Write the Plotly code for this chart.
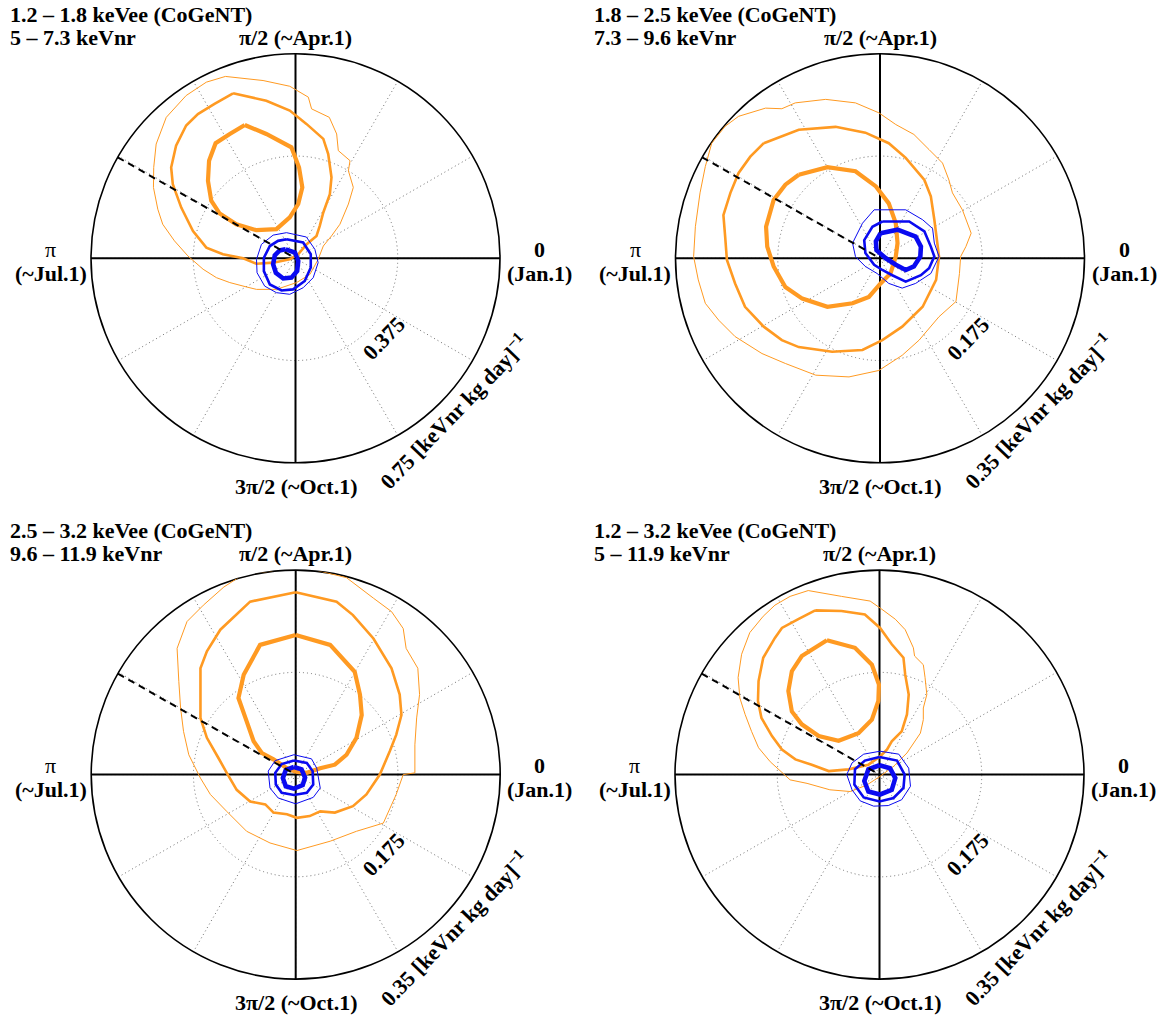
import numpy as np
import plotly.graph_objects as go

W, H = 1169, 1020
ORANGE = "#FF9A22"
BLUE = "#0A0AF0"
FONT = "Liberation Serif"
GRID = "#707070"

# Expected annual-modulation peak phase (~Jun.2), in degrees
PEAK_PHASE_DEG = 150.4

# Modulation amplitude contours, given as (A cos phi, A sin phi) pairs
# in [keVnr kg day]^-1.  outer / middle / inner confidence regions.

# ---- 1.2 - 1.8 keVee ----
p1_cogent_outer = [(-0.257, 0.667), (-0.119, 0.652), (-0.021, 0.631), (0.047, 0.591), (0.059, 0.548),
                   (0.124, 0.517), (0.151, 0.456), (0.157, 0.395), (0.200, 0.358), (0.194, 0.321),
                   (0.212, 0.260), (0.194, 0.199), (0.163, 0.125), (0.132, 0.082), (0.102, 0.045),
                   (0.083, -0.004), (0.053, -0.059), (0.004, -0.089), (-0.070, -0.114), (-0.143, -0.114),
                   (-0.180, -0.105), (-0.241, -0.089), (-0.290, -0.071), (-0.339, -0.040), (-0.395, 0.009),
                   (-0.444, 0.064), (-0.487, 0.125), (-0.505, 0.180), (-0.521, 0.260), (-0.520, 0.333),
                   (-0.511, 0.419), (-0.474, 0.517), (-0.401, 0.597), (-0.327, 0.646)]
p1_cogent_middle = [(-0.229, 0.605), (-0.107, 0.578), (-0.021, 0.542), (0.040, 0.493), (0.102, 0.438),
                    (0.120, 0.382), (0.132, 0.297), (0.126, 0.235), (0.102, 0.168), (0.089, 0.119),
                    (0.077, 0.082), (0.040, 0.051), (0.010, 0.015), (-0.021, -0.004), (-0.082, -0.016),
                    (-0.143, -0.020), (-0.192, 0.000), (-0.266, 0.015), (-0.327, 0.039), (-0.376, 0.100),
                    (-0.419, 0.186), (-0.450, 0.272), (-0.456, 0.333), (-0.438, 0.413), (-0.401, 0.487),
                    (-0.358, 0.529), (-0.297, 0.566)]
p1_cogent_inner = [(-0.186, 0.489), (-0.107, 0.456), (-0.015, 0.407), (0.013, 0.333), (0.025, 0.260),
                   (0.010, 0.199), (-0.021, 0.150), (-0.070, 0.107), (-0.143, 0.103), (-0.217, 0.125),
                   (-0.278, 0.164), (-0.309, 0.211), (-0.321, 0.284), (-0.317, 0.358), (-0.293, 0.422),
                   (-0.241, 0.456)]
p1_other_outer = [(-0.033, 0.094), (0.040, 0.078), (0.071, 0.033), (0.083, -0.016), (0.065, -0.071),
                  (0.028, -0.108), (-0.021, -0.132), (-0.070, -0.126), (-0.113, -0.102), (-0.141, -0.053),
                  (-0.143, -0.004), (-0.125, 0.051), (-0.082, 0.085)]
p1_other_middle = [(-0.033, 0.070), (0.028, 0.058), (0.056, 0.015), (0.056, -0.034), (0.034, -0.083),
                   (-0.009, -0.114), (-0.051, -0.118), (-0.094, -0.096), (-0.116, -0.047), (-0.116, 0.002),
                   (-0.094, 0.045), (-0.064, 0.064)]
p1_other_inner = [(-0.036, 0.033), (-0.002, 0.021), (0.010, -0.010), (0.006, -0.047), (-0.015, -0.071),
                  (-0.045, -0.074), (-0.072, -0.053), (-0.082, -0.022), (-0.076, 0.011), (-0.058, 0.029)]

# ---- 1.8 - 2.5 keVee ----
p2_cogent_outer = [(-0.242, 0.243), (-0.196, 0.257), (-0.168, 0.256), (-0.145, 0.266), (-0.093, 0.272),
                   (-0.042, 0.266), (-0.002, 0.249), (0.027, 0.229), (0.058, 0.212), (0.084, 0.186),
                   (0.107, 0.163), (0.118, 0.134), (0.124, 0.112), (0.141, 0.083), (0.156, 0.043),
                   (0.147, 0.020), (0.138, 0.003), (0.136, -0.026), (0.130, -0.074), (0.101, -0.100),
                   (0.067, -0.140), (0.038, -0.166), (-0.002, -0.192), (-0.053, -0.203), (-0.110, -0.200),
                   (-0.162, -0.180), (-0.202, -0.163), (-0.248, -0.134), (-0.276, -0.106), (-0.299, -0.077),
                   (-0.311, -0.037), (-0.319, 0.003), (-0.316, 0.054), (-0.308, 0.112), (-0.299, 0.157),
                   (-0.288, 0.197), (-0.265, 0.226)]
p2_cogent_middle = [(-0.199, 0.197), (-0.139, 0.220), (-0.076, 0.225), (-0.025, 0.215), (0.015, 0.197),
                    (0.044, 0.172), (0.076, 0.134), (0.087, 0.106), (0.093, 0.066), (0.101, 0.003),
                    (0.096, -0.037), (0.073, -0.083), (0.038, -0.117), (0.004, -0.140), (-0.030, -0.157),
                    (-0.082, -0.160), (-0.139, -0.152), (-0.168, -0.140), (-0.199, -0.117), (-0.231, -0.083),
                    (-0.248, -0.043), (-0.262, -0.003), (-0.265, 0.037), (-0.268, 0.074), (-0.256, 0.112),
                    (-0.242, 0.146), (-0.222, 0.174)]
p2_cogent_inner = [(-0.139, 0.143), (-0.090, 0.156), (-0.042, 0.149), (-0.007, 0.123), (0.015, 0.094),
                   (0.027, 0.060), (0.030, 0.026), (0.027, 0.003), (0.018, -0.026), (0.001, -0.043),
                   (-0.019, -0.066), (-0.047, -0.077), (-0.090, -0.083), (-0.133, -0.069), (-0.162, -0.049),
                   (-0.182, -0.014), (-0.193, 0.020), (-0.195, 0.054), (-0.182, 0.100), (-0.162, 0.126)]
p2_other_outer = [(-0.010, 0.083), (0.044, 0.083), (0.073, 0.066), (0.090, 0.051), (0.093, 0.026),
                  (0.101, 0.003), (0.087, -0.026), (0.061, -0.043), (0.038, -0.051), (0.015, -0.043),
                  (-0.005, -0.026), (-0.025, -0.014), (-0.042, 0.003), (-0.047, 0.026), (-0.030, 0.060)]
p2_other_middle = [(0.004, 0.063), (0.050, 0.063), (0.076, 0.046), (0.087, 0.020), (0.093, 0.003),
                   (0.084, -0.017), (0.070, -0.029), (0.044, -0.040), (0.021, -0.029), (0.004, -0.020),
                   (-0.010, -0.011), (-0.025, 0.009), (-0.027, 0.031), (-0.013, 0.054)]
p2_other_inner = [(0.001, 0.043), (0.030, 0.049), (0.061, 0.037), (0.070, 0.020), (0.069, 0.003),
                  (0.058, -0.014), (0.044, -0.020), (0.027, -0.011), (0.010, 0.000), (-0.006, 0.014),
                  (-0.007, 0.029)]

# ---- 2.5 - 3.2 keVee ----
p3_cogent_outer = [(-0.089, 0.343), (-0.044, 0.348), (-0.010, 0.356), (0.019, 0.354), (0.087, 0.337),
                   (0.133, 0.302), (0.164, 0.279), (0.184, 0.250), (0.189, 0.216), (0.209, 0.182),
                   (0.212, 0.137), (0.207, 0.097), (0.204, 0.051), (0.204, 0.003), (0.184, 0.000),
                   (0.172, -0.034), (0.150, -0.083), (0.104, -0.097), (0.059, -0.114), (0.002, -0.130),
                   (-0.044, -0.117), (-0.084, -0.097), (-0.118, -0.063), (-0.146, -0.034), (-0.163, -0.006),
                   (-0.183, 0.034), (-0.192, 0.074), (-0.197, 0.114), (-0.200, 0.159), (-0.203, 0.216),
                   (-0.186, 0.262), (-0.158, 0.290), (-0.123, 0.321)]
p3_cogent_middle = [(0.000, 0.312), (0.070, 0.296), (0.098, 0.273), (0.133, 0.233), (0.164, 0.182),
                    (0.178, 0.137), (0.181, 0.102), (0.172, 0.068), (0.161, 0.040), (0.144, 0.000),
                    (0.121, -0.034), (0.098, -0.054), (0.067, -0.065), (0.042, -0.063), (0.024, -0.071),
                    (0.002, -0.074), (-0.015, -0.068), (-0.038, -0.065), (-0.052, -0.051), (-0.078, -0.046),
                    (-0.101, -0.026), (-0.118, 0.003), (-0.132, 0.028), (-0.152, 0.063), (-0.163, 0.097),
                    (-0.163, 0.137), (-0.163, 0.182), (-0.152, 0.211), (-0.129, 0.248), (-0.078, 0.296)]
p3_cogent_inner = [(0.000, 0.239), (0.059, 0.222), (0.101, 0.176), (0.110, 0.137), (0.113, 0.102),
                   (0.104, 0.063), (0.087, 0.034), (0.067, 0.017), (0.042, 0.011), (0.019, 0.003),
                   (0.000, 0.005), (-0.015, 0.011), (-0.038, 0.026), (-0.058, 0.037), (-0.072, 0.057),
                   (-0.086, 0.097), (-0.098, 0.131), (-0.089, 0.171), (-0.061, 0.222)]
p3_other_outer = [(-0.003, 0.034), (0.027, 0.027), (0.036, 0.011), (0.042, -0.023), (0.030, -0.039),
                  (0.000, -0.050), (-0.030, -0.040), (-0.044, -0.023), (-0.047, 0.006), (-0.035, 0.024)]
p3_other_middle = [(-0.003, 0.024), (0.019, 0.020), (0.029, 0.006), (0.030, -0.017), (0.019, -0.031),
                   (-0.003, -0.035), (-0.024, -0.031), (-0.034, -0.017), (-0.035, 0.003), (-0.024, 0.018)]
p3_other_inner = [(-0.003, 0.013), (0.010, 0.009), (0.016, -0.005), (0.012, -0.018), (-0.003, -0.024),
                  (-0.017, -0.020), (-0.022, -0.006), (-0.017, 0.008)]

# ---- 1.2 - 3.2 keVee ----
p4_cogent_outer = [(-0.122, 0.315), (-0.065, 0.305), (-0.016, 0.297), (0.004, 0.283), (0.027, 0.266),
                   (0.044, 0.248), (0.058, 0.217), (0.060, 0.203), (0.075, 0.188), (0.078, 0.166),
                   (0.081, 0.137), (0.075, 0.114), (0.075, 0.094), (0.070, 0.071), (0.047, 0.037),
                   (0.024, 0.014), (0.001, -0.003), (-0.022, -0.018), (-0.050, -0.029), (-0.085, -0.026),
                   (-0.124, -0.015), (-0.153, -0.009), (-0.187, 0.022), (-0.207, 0.046), (-0.219, 0.074),
                   (-0.230, 0.103), (-0.239, 0.131), (-0.242, 0.166), (-0.236, 0.206), (-0.222, 0.243),
                   (-0.199, 0.271), (-0.179, 0.290), (-0.153, 0.305)]
p4_cogent_middle = [(-0.110, 0.281), (-0.065, 0.280), (-0.025, 0.274), (0.001, 0.251), (0.021, 0.223),
                    (0.041, 0.200), (0.044, 0.171), (0.050, 0.137), (0.047, 0.103), (0.038, 0.074),
                    (0.021, 0.057), (0.013, 0.043), (0.001, 0.031), (-0.019, 0.017), (-0.053, 0.009),
                    (-0.087, 0.006), (-0.116, 0.017), (-0.144, 0.026), (-0.167, 0.043), (-0.184, 0.066),
                    (-0.202, 0.097), (-0.208, 0.126), (-0.207, 0.160), (-0.199, 0.200), (-0.179, 0.234),
                    (-0.167, 0.251), (-0.139, 0.266)]
p4_cogent_inner = [(-0.090, 0.230), (-0.042, 0.217), (-0.013, 0.188), (-0.001, 0.154), (-0.002, 0.126),
                   (-0.013, 0.094), (-0.036, 0.071), (-0.070, 0.058), (-0.104, 0.066), (-0.133, 0.086),
                   (-0.150, 0.108), (-0.156, 0.143), (-0.150, 0.177), (-0.133, 0.203)]
p4_other_outer = [(0.001, 0.040), (0.033, 0.035), (0.050, 0.011), (0.053, -0.020), (0.038, -0.043),
                  (0.015, -0.053), (-0.010, -0.054), (-0.033, -0.045), (-0.047, -0.026), (-0.056, 0.000),
                  (-0.047, 0.020), (-0.027, 0.035)]
p4_other_middle = [(0.000, 0.030), (0.030, 0.024), (0.043, 0.000), (0.041, -0.023), (0.024, -0.040),
                   (0.000, -0.046), (-0.027, -0.039), (-0.043, -0.017), (-0.042, 0.009), (-0.025, 0.024)]
p4_other_inner = [(0.000, 0.016), (0.018, 0.011), (0.027, -0.006), (0.021, -0.026), (0.001, -0.034),
                  (-0.019, -0.029), (-0.026, -0.011), (-0.019, 0.009)]

panel_titles = [("1.2 – 1.8 keVee (CoGeNT)", "5 – 7.3 keVnr"),
                ("1.8 – 2.5 keVee (CoGeNT)", "7.3 – 9.6 keVnr"),
                ("2.5 – 3.2 keVee (CoGeNT)", "9.6 – 11.9 keVnr"),
                ("1.2 – 3.2 keVee (CoGeNT)", "5 – 11.9 keVnr")]
panel_rmax = [0.75, 0.35, 0.35, 0.35]
panel_mid_tick = ["0.375", "0.175", "0.175", "0.175"]
panel_max_tick = ["0.75", "0.35", "0.35", "0.35"]

panel_contours = [
    (p1_cogent_outer, p1_cogent_middle, p1_cogent_inner, p1_other_outer, p1_other_middle, p1_other_inner),
    (p2_cogent_outer, p2_cogent_middle, p2_cogent_inner, p2_other_outer, p2_other_middle, p2_other_inner),
    (p3_cogent_outer, p3_cogent_middle, p3_cogent_inner, p3_other_outer, p3_other_middle, p3_other_inner),
    (p4_cogent_outer, p4_cogent_middle, p4_cogent_inner, p4_other_outer, p4_other_middle, p4_other_inner),
]

# Layout geometry (pixels): polar centers and radius
centers = [(295.5, 258.3), (880.0, 258.3), (295.7, 774.6), (879.5, 774.6)]
RADIUS = 204.5
subplot_ids = ["polar", "polar2", "polar3", "polar4"]


def to_polar(pairs):
    arr = np.array(list(pairs) + [pairs[0]], dtype=float)
    r = np.hypot(arr[:, 0], arr[:, 1])
    th = np.degrees(np.arctan2(arr[:, 1], arr[:, 0]))
    return r, th


def px(x):
    return x / W


def py(y):
    return 1 - y / H


fig = go.Figure()
annotations = []
layout_polars = {}

for i in range(4):
    sid = subplot_ids[i]
    rmax = panel_rmax[i]
    cx, cy = centers[i]

    # solid reference axes through the origin
    for a, b in ((0, 180), (90, 270)):
        fig.add_trace(go.Scatterpolar(r=[rmax, rmax], theta=[a, b], mode="lines",
                                      line=dict(color="black", width=2), subplot=sid,
                                      showlegend=False, hoverinfo="skip"))

    co, cm, ci, bo, bm, bi = panel_contours[i]
    for pts, color, width in ((co, ORANGE, 1.0), (cm, ORANGE, 2.6), (ci, ORANGE, 4.2),
                              (bo, BLUE, 1.0), (bm, BLUE, 2.6), (bi, BLUE, 4.6)):
        r, th = to_polar(pts)
        fig.add_trace(go.Scatterpolar(r=r, theta=th, mode="lines",
                                      line=dict(color=color, width=width), subplot=sid,
                                      cliponaxis=False, showlegend=False, hoverinfo="skip"))

    # expected phase
    fig.add_trace(go.Scatterpolar(r=[rmax, 0], theta=[PEAK_PHASE_DEG, PEAK_PHASE_DEG], mode="lines",
                                  line=dict(color="black", width=2, dash="7px,5px"), subplot=sid,
                                  showlegend=False, hoverinfo="skip"))

    layout_polars[sid] = dict(
        domain=dict(x=[px(cx - RADIUS), px(cx + RADIUS)], y=[py(cy + RADIUS), py(cy - RADIUS)]),
        bgcolor="white",
        radialaxis=dict(range=[0, rmax], tickmode="array", tickvals=[rmax / 2], showticklabels=False,
                        ticks="", showline=False, gridcolor=GRID, griddash="1px,3px", gridwidth=1,
                        layer="below traces"),
        angularaxis=dict(rotation=0, direction="counterclockwise", tickmode="linear", tick0=0, dtick=30,
                         showticklabels=False, ticks="", showline=True, linecolor="black", linewidth=1.6,
                         gridcolor=GRID, griddash="1px,3px", gridwidth=1, layer="below traces"),
    )

    f = dict(family=FONT, size=22, color="black", weight="bold")
    fn = dict(family=FONT, size=22, color="black")
    t1, t2 = panel_titles[i]
    annotations += [
        dict(text=t1, x=px(cx - 288), y=py(cy - 244), xanchor="left", yanchor="middle", font=f),
        dict(text=t2, x=px(cx - 288), y=py(cy - 221), xanchor="left", yanchor="middle", font=f),
        dict(text="π/2 (~Apr.1)", x=px(cx), y=py(cy - 221), xanchor="center", yanchor="middle", font=f),
        dict(text="π", x=px(cx - 245), y=py(cy - 9), xanchor="center", yanchor="middle", font=fn),
        dict(text="(~Jul.1)", x=px(cx - 245), y=py(cy + 15), xanchor="center", yanchor="middle", font=f),
        dict(text="0", x=px(cx + 244), y=py(cy - 9), xanchor="center", yanchor="middle", font=f),
        dict(text="(Jan.1)", x=px(cx + 244), y=py(cy + 15), xanchor="center", yanchor="middle", font=f),
        dict(text="3π/2 (~Oct.1)", x=px(cx), y=py(cy + 228), xanchor="center", yanchor="middle", font=f),
        dict(text=panel_mid_tick[i], x=px(cx + 88), y=py(cy + 80), xanchor="center", yanchor="middle",
             textangle=-46, font=f),
        dict(text=panel_max_tick[i] + " [keVnr kg day]<sup>−1</sup>", x=px(cx + 158), y=py(cy + 153),
             xanchor="center", yanchor="middle", textangle=-46, font=f),
    ]

for a in annotations:
    a.update(xref="paper", yref="paper", showarrow=False)

fig.update_layout(width=W, height=H, margin=dict(l=0, r=0, t=0, b=0), autosize=False,
                  paper_bgcolor="white", plot_bgcolor="white", showlegend=False,
                  annotations=annotations, **layout_polars)

fig.write_html("out.html")
